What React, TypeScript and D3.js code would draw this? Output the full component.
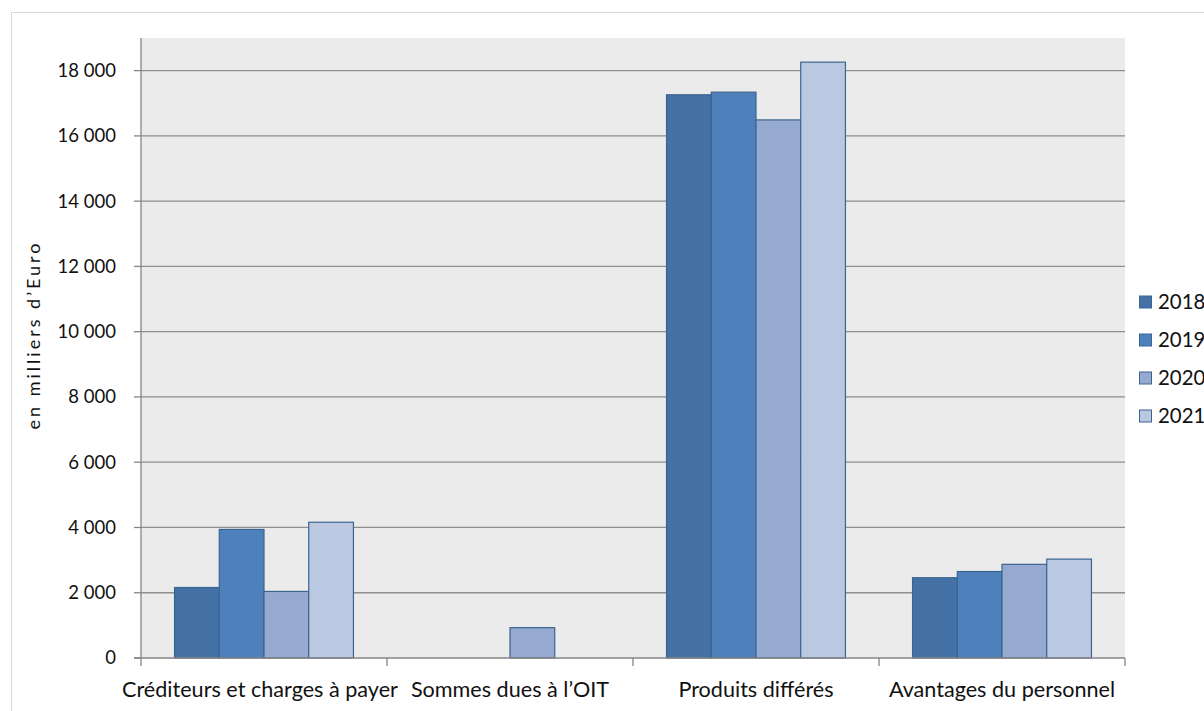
import React from "react";
import { scaleBand, scaleLinear, range } from "d3";

const categories = [
  "Créditeurs et charges à payer",
  "Sommes dues à l’OIT",
  "Produits différés",
  "Avantages du personnel"
];
const years = ["2018", "2019", "2020", "2021"];
// one value per category for each year (milliers d'Euro)
const values2018 = [2160, 0, 17260, 2460];
const values2019 = [3940, 0, 17340, 2650];
const values2020 = [2040, 930, 16490, 2870];
const values2021 = [4160, 0, 18260, 3030];
const yTicks = [0, 2000, 4000, 6000, 8000, 10000, 12000, 14000, 16000, 18000];
const tickLabels = ["0", "2 000", "4 000", "6 000", "8 000", "10 000", "12 000", "14 000", "16 000", "18 000"];

const colors = ["#4471A6", "#4E80BC", "#95A9D1", "#BBC8E1"];
const FONT = "Lato, 'Open Sans', sans-serif";

export default function App() {
  const W = 1204;
  const H = 711;
  const left = 141;
  const right = 1125;
  const top = 38;
  const bottom = 658;

  const series = [values2018, values2019, values2020, values2021];

  const x0 = scaleBand<string>().domain(categories).range([left, right]);
  const groupW = x0.bandwidth();
  // gap width 150%: bar width = group / (4 + 1.5)
  const barW = groupW / 5.5;
  const offset = (groupW - barW * 4) / 2;

  const y = scaleLinear().domain([0, 19000]).range([bottom, top]);

  return (
    <svg
      width={W}
      height={H}
      style={{ position: "absolute", left: 0, top: 0, background: "#fff" }}
    >
      <rect x={11.5} y={12.5} width={W} height={H} fill="#fff" stroke="#D9D9D9" />
      <rect x={left} y={top} width={right - left} height={bottom - top} fill="#EBEBEB" />

      {yTicks.slice(1).map(v => (
        <line key={v} x1={left} x2={right} y1={y(v)} y2={y(v)} stroke="#8E8E8E" strokeWidth={1.3} />
      ))}

      {categories.map((c, ci) => (
        <g key={c}>
          {years.map((yr, yi) => {
            const v = series[yi][ci];
            if (!v) return null;
            const bx = (x0(c) as number) + offset + yi * barW;
            return (
              <rect
                key={yr}
                x={bx}
                y={y(v)}
                width={barW}
                height={y(0) - y(v)}
                fill={colors[yi]}
                stroke="#3C6491"
                strokeWidth={1.2}
              />
            );
          })}
        </g>
      ))}

      {/* axes */}
      <line x1={left} x2={left} y1={top} y2={bottom} stroke="#868686" strokeWidth={1.3} />
      <line x1={left - 7} x2={right} y1={bottom} y2={bottom} stroke="#868686" strokeWidth={1.3} />
      {yTicks.map((v, i) => (
        <g key={v}>
          <line x1={left - 7} x2={left} y1={y(v)} y2={y(v)} stroke="#868686" strokeWidth={1.3} />
          <text
            x={116}
            y={y(v)}
            dy="0.35em"
            textAnchor="end"
            fontFamily={FONT}
            fontSize={18.5}
            fill="#111"
          >
            {tickLabels[i]}
          </text>
        </g>
      ))}
      {range(categories.length + 1).map(i => {
        const xx = left + i * groupW;
        return <line key={i} x1={xx} x2={xx} y1={bottom} y2={bottom + 8} stroke="#868686" strokeWidth={1.3} />;
      })}
      {categories.map((c, i) => (
        <text
          key={c}
          x={(x0(c) as number) + groupW / 2 - (i === 0 ? 4 : 0)}
          y={697}
          textAnchor="middle"
          fontFamily={FONT}
          fontSize={21.6}
          fill="#111"
        >
          {c}
        </text>
      ))}

      <text
        transform={`translate(40, 335) rotate(-90)`}
        textAnchor="middle"
        fontFamily={FONT}
        fontSize={18}
        letterSpacing={3}
        fill="#111"
      >
        en milliers d’Euro
      </text>

      {years.map((yr, i) => {
        const ly = 302 + i * 38;
        return (
          <g key={yr}>
            <rect x={1139.5} y={ly - 6} width={12} height={12} fill={colors[i]} stroke="#3C6491" strokeWidth={1} />
            <text x={1158} y={ly} dy="0.36em" fontFamily={FONT} fontSize={20.4} fill="#111">
              {yr}
            </text>
          </g>
        );
      })}
    </svg>
  );
}
